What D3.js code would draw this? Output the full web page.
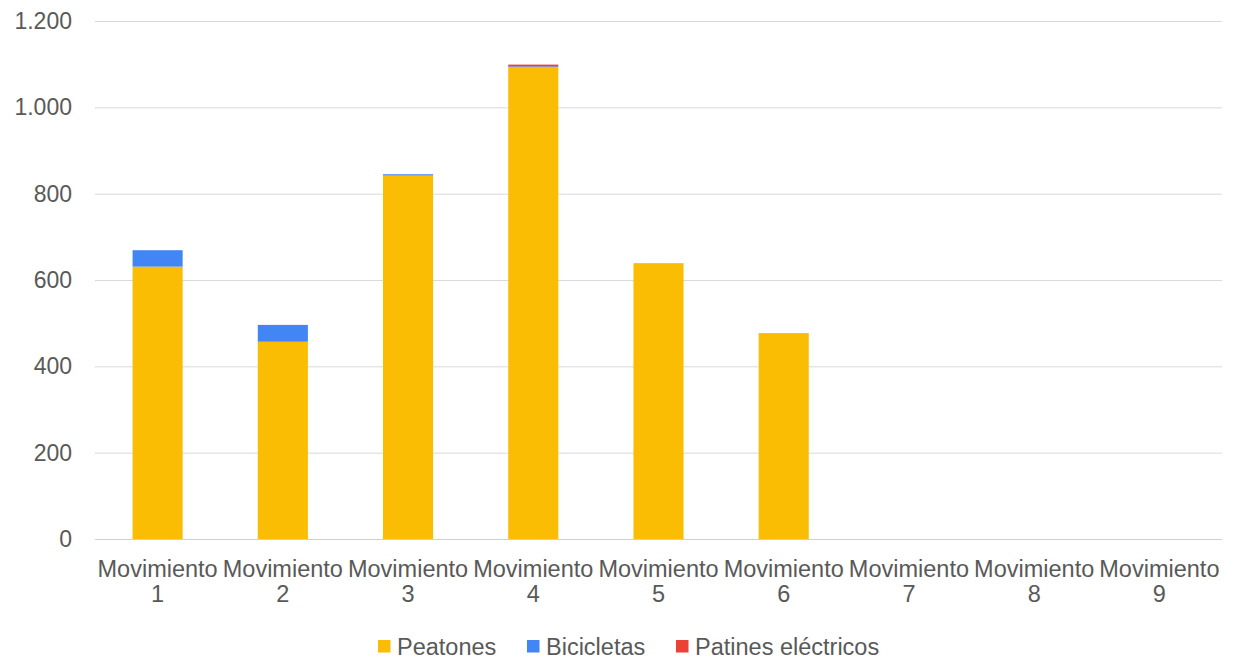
<!DOCTYPE html>
<html><head><meta charset="utf-8">
<script src="https://cdn.jsdelivr.net/npm/d3@7"></script>
<style>body{margin:0;background:#fff;} svg{display:block;font-family:"Liberation Sans",Arial,sans-serif;}</style>
</head><body>
<svg id="c" width="1244" height="659"></svg>
<script>
const categories = ["Movimiento 1","Movimiento 2","Movimiento 3","Movimiento 4","Movimiento 5","Movimiento 6","Movimiento 7","Movimiento 8","Movimiento 9"];
const seriesNames = ["Peatones","Bicicletas","Patines eléctricos"];
const peatones = [631,457,842,1093,639,477,0,0,0];
const bicicletas = [38,39,3,2,0,0,0,0,0];
const patines = [0,0,0,4,0,0,0,0,0];
const yTicks = [0,200,400,600,800,1000,1200];
const colors = ["#FBBC04","#4285F4","#EA4335"];

const svg = d3.select("#c");
const m = {l:95, r:22, t:21, b:120};
const W = 1244, H = 659;
const x = d3.scaleBand().domain(categories).range([m.l, W-m.r]).paddingInner(0.6).paddingOuter(0.3);
const y = d3.scaleLinear().domain([0,1200]).range([539, 21]);

const fmt = v => d3.format(",")(v).replace(/,/g, ".");

// grid
svg.append("g").selectAll("line").data(yTicks).join("line")
  .attr("x1", m.l).attr("x2", W-m.r)
  .attr("y1", d=>y(d)+0.5).attr("y2", d=>y(d)+0.5)
  .attr("stroke", d=> d===0 ? "#d0d0d0" : "#d9d9d9").attr("stroke-width",1);

// y labels
svg.append("g").selectAll("text").data(yTicks).join("text")
  .attr("x", 72).attr("y", d=>y(d)).attr("dy","0.35em")
  .attr("text-anchor","end").attr("font-size",23).attr("fill","#595959")
  .text(fmt);

const table = categories.map((c,i)=>({cat:c, Peatones:peatones[i], Bicicletas:bicicletas[i], "Patines eléctricos":patines[i]}));
const stack = d3.stack().keys(seriesNames)(table);

svg.append("g").selectAll("g").data(stack).join("g")
  .attr("fill",(d,i)=>colors[i])
  .selectAll("rect").data(d=>d).join("rect")
  .attr("x", d=>x(d.data.cat)).attr("width", x.bandwidth())
  .attr("y", d=>y(d[1])).attr("height", d=>Math.max(0, y(d[0])-y(d[1])));

// x labels
const xl = svg.append("g").selectAll("text").data(categories).join("text")
  .attr("text-anchor","middle").attr("font-size",23.5).attr("fill","#595959");
xl.append("tspan").attr("x", d=>x(d)+x.bandwidth()/2).attr("y",577).text(d=>d.split(" ")[0]);
xl.append("tspan").attr("x", d=>x(d)+x.bandwidth()/2).attr("y",602).text(d=>d.split(" ")[1]);

// legend
const legX = [378, 527, 676];
const lg = svg.append("g").selectAll("g").data(seriesNames).join("g")
  .attr("transform",(d,i)=>`translate(${legX[i]},0)`);
lg.append("rect").attr("x",0).attr("y",640).attr("width",12.5).attr("height",12.5).attr("fill",(d,i)=>colors[i]);
lg.append("text").attr("x",19).attr("y",655).attr("font-size",23.5).attr("fill","#595959").text(d=>d);
</script>
</body></html>
